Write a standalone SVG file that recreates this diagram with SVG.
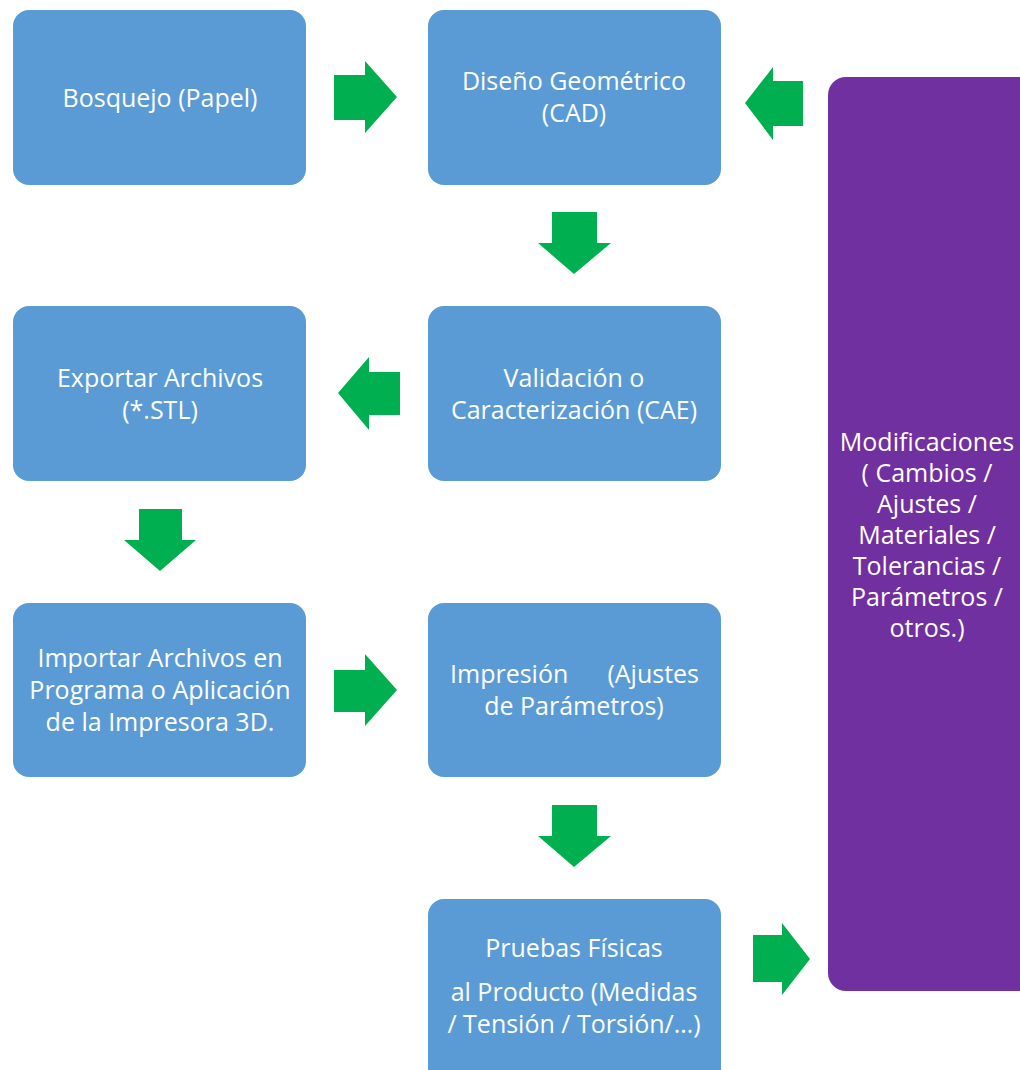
<svg xmlns="http://www.w3.org/2000/svg" width="1020" height="1070" viewBox="0 0 1020 1070">
<style>
.box{fill:#5B9BD5;}
.purple{fill:#7030A0;}
.arr{fill:#00B050;}
text{font-family:"Open Sans","Noto Sans",sans-serif;font-size:25px;fill:#FFFFFF;text-anchor:middle;}
.s{text-anchor:start;}
.e{text-anchor:end;}
</style>
<rect width="1020" height="1070" fill="#FFFFFF"/>
<g id="bosquejo"><rect class="box" x="13" y="10" width="293" height="175" rx="16"/><text x="160" y="107">Bosquejo (Papel)</text></g>
<g id="diseno"><rect class="box" x="428" y="10" width="293" height="175" rx="16"/><text x="574" y="90">Diseño Geométrico</text><text x="574" y="122">(CAD)</text></g>
<g id="validacion"><rect class="box" x="428" y="306" width="293" height="175" rx="16"/><text x="574" y="387">Validación o</text><text x="574" y="419">Caracterización (CAE)</text></g>
<g id="exportar"><rect class="box" x="13" y="306" width="293" height="175" rx="16"/><text x="160" y="387">Exportar Archivos</text><text x="160" y="419">(*.STL)</text></g>
<g id="importar"><rect class="box" x="13" y="603" width="293" height="174" rx="16"/><text x="160" y="667">Importar Archivos en</text><text x="160" y="699">Programa o Aplicación</text><text x="160" y="731">de la Impresora 3D.</text></g>
<g id="impresion"><rect class="box" x="428" y="603" width="293" height="174" rx="16"/><text class="s" x="450" y="683">Impresión</text><text class="e" x="699" y="683">(Ajustes</text><text x="574" y="715">de Parámetros)</text></g>
<g id="pruebas"><rect class="box" x="428" y="899" width="293" height="190" rx="16"/><text x="574" y="957">Pruebas Físicas</text><text x="574" y="1001">al Producto (Medidas</text><text x="574" y="1033">/ Tensión / Torsión/…)</text></g>
<g id="modificaciones"><rect class="purple" x="828" y="77" width="210" height="914" rx="18"/><text x="927" y="451">Modificaciones</text><text x="927" y="482">( Cambios /</text><text x="927" y="513">Ajustes /</text><text x="927" y="544">Materiales /</text><text x="927" y="575">Tolerancias /</text><text x="927" y="606">Parámetros /</text><text x="927" y="637">otros.)</text></g>
<g id="connectors">
<polygon class="arr" points="334,75 365,75 365,61 397,97 365,133 365,120 334,120"/>
<polygon class="arr" points="803,81 773,81 773,67 745,103 773,140 773,126 803,126"/>
<polygon class="arr" points="552,212 597,212 597,243 611,243 574,274 538,243 552,243"/>
<polygon class="arr" points="400,372 369,372 369,357 338,393 369,430 369,415 400,415"/>
<polygon class="arr" points="139,509 182,509 182,540 196,540 160,571 124,540 139,540"/>
<polygon class="arr" points="334,670 365,670 365,654 397,690 365,726 365,712 334,712"/>
<polygon class="arr" points="552,805 597,805 597,836 611,836 574,867 538,836 552,836"/>
<polygon class="arr" points="753,935 782,935 782,923 810,959 782,995 782,982 753,982"/>
</g>
</svg>
